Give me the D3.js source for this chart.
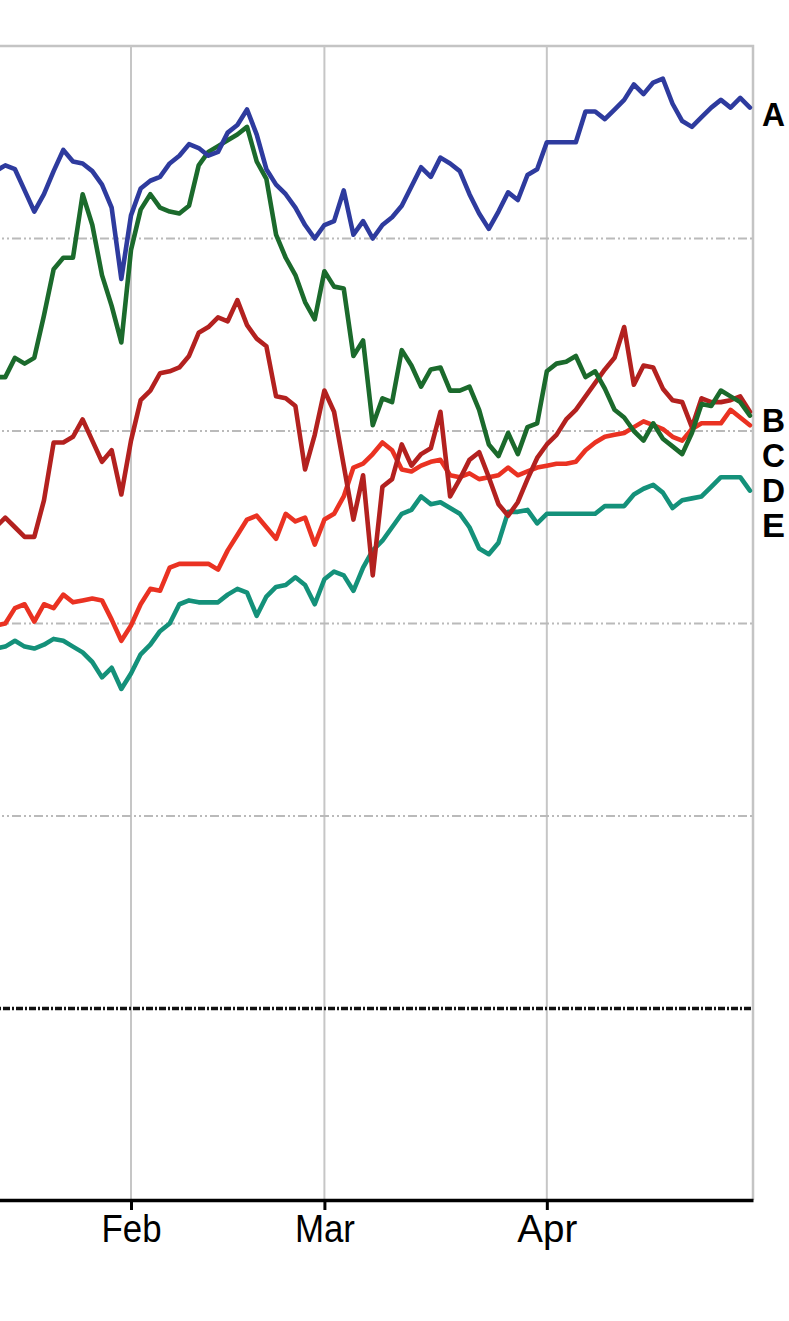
<!DOCTYPE html>
<html><head><meta charset="utf-8">
<script src="https://cdn.jsdelivr.net/npm/d3@7"></script>
<style>html,body{margin:0;padding:0;background:#fff;overflow:hidden}</style>
</head><body>
<svg id="chart" width="789" height="1321"></svg>
<script>
// ---- data (trading-day index 0..78, values in % units; 0 = black dashed baseline) ----
const monthLabels = ["Feb", "Mar", "Apr"];
const monthStartDay = [14, 34, 57];
const seriesNames = ["A", "B", "C", "D", "E"];
const gridValues = [10, 20, 30, 40];
const baselineValue = 0;

const seriesA = [43.5,43.8,43.6,42.5,41.4,42.3,43.5,44.6,44.0,43.9,43.5,42.8,41.6,37.9,41.2,42.6,43.0,43.2,43.9,44.3,
  44.9,44.7,44.3,44.5,45.5,45.9,46.7,45.4,43.6,42.8,42.3,41.6,40.7,40.0,40.7,40.9,42.5,40.2,40.9,40.0,
  40.7,41.1,41.7,42.7,43.7,43.2,44.2,43.9,43.5,42.3,41.3,40.5,41.4,42.4,42.0,43.3,43.6,45.0,45.0,45.0,
  45.0,46.6,46.6,46.2,46.7,47.2,48.0,47.5,48.1,48.3,47.0,46.1,45.8,46.3,46.8,47.2,46.8,47.3,46.8];
const seriesB = [32.8,32.8,33.8,33.5,33.8,36.0,38.4,39.0,39.0,42.3,40.7,38.1,36.5,34.6,39.4,41.5,42.3,41.6,41.4,41.3,
  41.7,43.8,44.5,44.8,45.1,45.4,45.8,44.0,43.1,40.2,39.0,38.1,36.7,35.8,38.3,37.5,37.4,33.9,34.7,30.3,
  31.7,31.5,34.2,33.4,32.3,33.2,33.3,32.1,32.1,32.3,31.1,29.3,28.7,29.9,28.8,30.2,30.4,33.1,33.5,33.6,
  33.9,32.8,33.1,32.2,31.1,30.7,30.0,29.5,30.4,29.6,29.2,28.8,29.9,31.4,31.3,32.1,31.8,31.5,30.8];
const seriesC = [25.0,25.5,25.0,24.5,24.5,26.4,29.4,29.4,29.7,30.6,29.5,28.4,29.0,26.7,29.5,31.6,32.1,33.0,33.1,33.3,
  33.9,35.1,35.4,35.9,35.7,36.8,35.5,34.8,34.4,31.8,31.7,31.3,28.0,29.8,32.1,31.0,28.2,25.4,27.7,22.5,
  27.1,27.5,29.3,28.2,28.8,29.1,31.0,26.6,27.5,28.5,28.9,27.6,26.2,25.6,26.3,27.5,28.6,29.3,29.8,30.6,
  31.1,31.8,32.5,33.2,33.8,35.4,32.4,33.4,33.3,32.2,31.6,31.5,30.2,31.7,31.5,31.5,31.6,31.8,31.0];
const seriesD = [19.9,20.0,20.8,21.0,20.1,21.0,20.8,21.5,21.1,21.2,21.3,21.2,20.2,19.1,19.9,21.0,21.8,21.7,22.9,23.1,
  23.1,23.1,23.1,22.8,23.8,24.6,25.4,25.6,25.0,24.4,25.7,25.3,25.5,24.1,25.4,25.7,26.6,28.1,28.3,28.8,
  29.4,29.0,28.0,27.9,28.2,28.4,28.5,27.7,27.6,27.8,27.5,27.6,27.7,28.1,27.7,27.9,28.1,28.2,28.3,28.3,
  28.4,29.0,29.4,29.7,29.8,29.9,30.2,30.5,30.3,30.1,29.7,29.5,30.1,30.4,30.4,30.4,31.1,30.7,30.3];
const seriesE = [18.7,18.8,19.1,18.8,18.7,18.9,19.2,19.1,18.8,18.5,18.0,17.2,17.7,16.6,17.4,18.4,18.9,19.6,20.0,21.0,
  21.2,21.1,21.1,21.1,21.5,21.8,21.6,20.4,21.4,21.9,22.0,22.4,22.0,21.0,22.3,22.7,22.5,21.7,22.9,23.8,
  24.3,25.0,25.7,25.9,26.6,26.2,26.3,26.0,25.7,25.0,23.9,23.6,24.2,25.8,25.8,25.9,25.2,25.7,25.7,25.7,
  25.7,25.7,25.7,26.1,26.1,26.1,26.7,27.0,27.2,26.8,26.0,26.4,26.5,26.6,27.1,27.6,27.6,27.6,26.9];
const seriesColors = ["#2e3b9e", "#1b6a2c", "#b3211f", "#ea3222", "#14917a"];

// ---- layout ----
const plotLeft = -10, plotRight = 753, plotTop = 46, plotBottom = 1200;

const svg = d3.select("#chart");
const x = d3.scaleLinear().domain([-0.58, 78.32]).range([plotLeft, plotRight]);
const y = d3.scaleLinear().domain([-10, 50]).range([1201, plotTop]);

const allSeries = [seriesA, seriesB, seriesC, seriesD, seriesE];

// plot frame (top + right, grey)
svg.append("path")
  .attr("d", `M${plotLeft},${plotTop}H${plotRight}V${plotBottom}`)
  .attr("fill", "none").attr("stroke", "#c4c4c4").attr("stroke-width", 2.5);

// vertical grid lines at month starts
svg.append("g").selectAll("line").data(monthStartDay).join("line")
  .attr("x1", d => x(d)).attr("x2", d => x(d))
  .attr("y1", plotTop).attr("y2", plotBottom)
  .attr("stroke", "#c6c6c6").attr("stroke-width", 2);

// horizontal dash-dot grid lines
svg.append("g").selectAll("line").data(gridValues).join("line")
  .attr("x1", plotLeft).attr("x2", plotRight)
  .attr("y1", d => y(d)).attr("y2", d => y(d))
  .attr("stroke", "#bababa").attr("stroke-width", 2.2)
  .attr("stroke-dasharray", "9,3,2,3,2,3");

// black baseline
svg.append("line")
  .attr("x1", plotLeft).attr("x2", plotRight)
  .attr("y1", y(baselineValue)).attr("y2", y(baselineValue))
  .attr("stroke", "#111").attr("stroke-width", 3.5)
  .attr("stroke-dasharray", "7,2,2,2");

// x axis
const xAxis = d3.axisBottom(x)
  .tickValues(monthStartDay)
  .tickFormat((d, i) => monthLabels[i])
  .tickSize(10).tickSizeOuter(0);
const ax = svg.append("g").attr("transform", `translate(0,${plotBottom})`).call(xAxis);
ax.select(".domain").attr("stroke", "#000").attr("stroke-width", 3.5);
ax.selectAll(".tick line").attr("stroke", "#000").attr("stroke-width", 3);
ax.selectAll(".tick text")
  .attr("y", 42).attr("dy", 0)
  .attr("fill", "#000")
  .style("font-family", "'Liberation Sans', Arial, sans-serif")
  .style("font-size", "38px")
  .attr("textLength", 60).attr("lengthAdjust", "spacingAndGlyphs");

// lines
const line = d3.line().x((d, i) => x(i)).y(d => y(d));
const drawOrder = [4, 3, 2, 1, 0];
svg.append("g").selectAll("path").data(drawOrder).join("path")
  .attr("d", k => line(allSeries[k]))
  .attr("fill", "none")
  .attr("stroke", k => seriesColors[k])
  .attr("stroke-width", 4.6)
  .attr("stroke-linejoin", "round").attr("stroke-linecap", "round");

// end labels
const labelX = plotRight + 9;
const lastB = seriesB[seriesB.length - 1];
const labelY = [
  y(seriesA[seriesA.length - 1]) + 18,
  y(lastB) + 16,
  y(lastB) + 16 + 35,
  y(lastB) + 16 + 70,
  y(lastB) + 16 + 105
];
svg.append("g").selectAll("text").data(seriesNames).join("text")
  .attr("x", labelX).attr("y", (d, i) => labelY[i])
  .text(d => d)
  .attr("fill", "#000")
  .style("font-family", "'Liberation Sans', Arial, sans-serif")
  .style("font-weight", "bold")
  .style("font-size", "34px")
  .attr("textLength", 23).attr("lengthAdjust", "spacingAndGlyphs");
</script>
</body></html>
